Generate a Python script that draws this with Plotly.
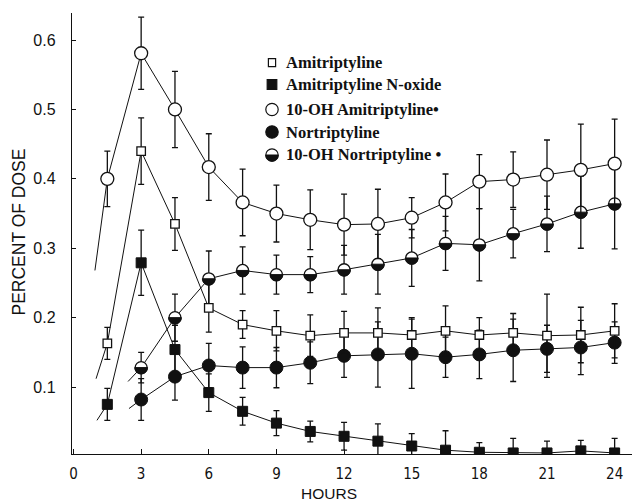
import math
import plotly.graph_objects as go

# ---------------- data ----------------
hours = [1.5, 3, 4.5, 6, 7.5, 9, 10.5, 12, 13.5, 15, 16.5, 18, 19.5, 21, 22.5, 24]
hours_nor = [3, 4.5, 6, 7.5, 9, 10.5, 12, 13.5, 15, 16.5, 18, 19.5, 21, 22.5, 24]

amitriptyline = [0.163, 0.440, 0.335, 0.214, 0.190, 0.181, 0.174, 0.178, 0.178, 0.175, 0.181, 0.175, 0.178, 0.174, 0.175, 0.181]
amitriptyline_sd = [0.023, 0.048, 0.038, 0.035, 0.020, 0.029, 0.030, 0.031, 0.036, 0.025, 0.036, 0.025, 0.028, 0.060, 0.040, 0.039]

n_oxide = [0.075, 0.279, 0.154, 0.092, 0.065, 0.048, 0.036, 0.029, 0.022, 0.015, 0.009, 0.006, 0.005, 0.005, 0.008, 0.005]
n_oxide_sd = [0.023, 0.047, 0.035, 0.027, 0.020, 0.018, 0.015, 0.020, 0.025, 0.018, 0.028, 0.014, 0.021, 0.017, 0.015, 0.021]

oh_amitriptyline = [0.400, 0.581, 0.500, 0.417, 0.366, 0.350, 0.341, 0.334, 0.335, 0.344, 0.366, 0.396, 0.399, 0.406, 0.413, 0.422]
oh_amitriptyline_sd = [0.040, 0.052, 0.055, 0.048, 0.048, 0.041, 0.043, 0.044, 0.050, 0.029, 0.041, 0.039, 0.040, 0.050, 0.066, 0.064]

nortriptyline = [0.082, 0.115, 0.131, 0.128, 0.128, 0.135, 0.145, 0.147, 0.148, 0.143, 0.147, 0.153, 0.155, 0.157, 0.164]
nortriptyline_sd = [0.030, 0.034, 0.032, 0.030, 0.029, 0.030, 0.031, 0.047, 0.050, 0.029, 0.035, 0.045, 0.034, 0.039, 0.030]

oh_nortriptyline = [0.128, 0.200, 0.256, 0.268, 0.262, 0.262, 0.269, 0.277, 0.286, 0.307, 0.305, 0.321, 0.335, 0.352, 0.364]
oh_nortriptyline_sd = [0.022, 0.034, 0.040, 0.034, 0.028, 0.026, 0.035, 0.043, 0.041, 0.039, 0.052, 0.035, 0.040, 0.052, 0.065]

# short lead-in segments drawn before the first point of each curve
lead_in_hours = [1.0, 1.04, 0.95, 2.46, 2.42]
lead_in_values = [0.112, 0.052, 0.268, 0.069, 0.108]

series_names = ["Amitriptyline", "Amitriptyline N-oxide", "10-OH Amitriptyline\u2022",
                "Nortriptyline", "10-OH Nortriptyline \u2022"]

x_ticks = [0, 3, 6, 9, 12, 15, 18, 21, 24]
y_ticks = [0.1, 0.2, 0.3, 0.4, 0.5, 0.6]
y_tick_labels = ["0.1", "0.2", "0.3", "0.4", "0.5", "0.6"]

# ---------------- layout geometry ----------------
W, H = 632, 503
ML, MR, MT, MB = 72, 0, 13, 49
PW, PH = W - ML - MR, H - MT - MB
INK = "#111111"


def px(xpix):
    return (xpix - ML) / PW


def py(ypix):
    return (H - MB - ypix) / PH


def err(sd):
    return dict(type="data", array=sd, visible=True, color=INK, thickness=1.3, width=3)


def half_path(r, n=24):
    pts = []
    for i in range(n + 1):
        t = math.pi + math.pi * i / n
        pts.append((r * math.cos(t), r * math.sin(t)))
    return "M" + "L".join(f"{a:.2f},{b:.2f}" for a, b in pts) + "Z"


fig = go.Figure()

# lead-in segments
firsts = [(hours[0], amitriptyline[0]), (hours[0], n_oxide[0]), (hours[0], oh_amitriptyline[0]),
          (hours_nor[0], nortriptyline[0]), (hours_nor[0], oh_nortriptyline[0])]
for (fx, fy), lx, ly in zip(firsts, lead_in_hours, lead_in_values):
    fig.add_trace(go.Scatter(x=[lx, fx], y=[ly, fy], mode="lines",
                             line=dict(color=INK, width=1), showlegend=False, hoverinfo="skip"))

fig.add_trace(go.Scatter(
    x=hours, y=n_oxide, name=series_names[1], mode="lines+markers",
    line=dict(color=INK, width=1), error_y=err(n_oxide_sd),
    marker=dict(symbol="square", size=10, color=INK, line=dict(color=INK, width=1))))

fig.add_trace(go.Scatter(
    x=hours_nor, y=nortriptyline, name=series_names[3], mode="lines+markers",
    line=dict(color=INK, width=1), error_y=err(nortriptyline_sd),
    marker=dict(symbol="circle", size=13, color=INK, line=dict(color=INK, width=1))))

fig.add_trace(go.Scatter(
    x=hours_nor, y=oh_nortriptyline, name=series_names[4], mode="lines+markers",
    line=dict(color=INK, width=1), error_y=err(oh_nortriptyline_sd),
    marker=dict(symbol="circle", size=12, color="white", line=dict(color=INK, width=1.3))))

fig.add_trace(go.Scatter(
    x=hours, y=amitriptyline, name=series_names[0], mode="lines+markers",
    line=dict(color=INK, width=1), error_y=err(amitriptyline_sd),
    marker=dict(symbol="square", size=8.5, color="white", line=dict(color=INK, width=1.3))))

fig.add_trace(go.Scatter(
    x=hours, y=oh_amitriptyline, name=series_names[2], mode="lines+markers",
    line=dict(color=INK, width=1), error_y=err(oh_amitriptyline_sd),
    marker=dict(symbol="circle", size=13, color="white", line=dict(color=INK, width=1.3))))

shapes = []
# lower black half of the 10-OH Nortriptyline markers
for hx, vy in zip(hours_nor, oh_nortriptyline):
    shapes.append(dict(type="path", xref="x", yref="y", xsizemode="pixel", ysizemode="pixel",
                       xanchor=hx, yanchor=vy, path=half_path(6.4),
                       fillcolor=INK, line=dict(color=INK, width=1), layer="above"))

# ---------------- hand-drawn legend ----------------
leg_sym_x = 272
leg_txt_x = 284
leg_rows = [62.7, 84.5, 109.5, 132, 155]


def sym_box(cx, cy, half_w, half_h, fill, kind="rect"):
    return dict(type=kind, xref="paper", yref="paper", xsizemode="pixel", ysizemode="pixel",
                xanchor=px(cx), yanchor=py(cy), x0=-half_w, x1=half_w, y0=-half_h, y1=half_h,
                fillcolor=fill, line=dict(color=INK, width=1.2), layer="above")


shapes.append(sym_box(leg_sym_x, leg_rows[0], 3.6, 4, "white"))
shapes.append(sym_box(leg_sym_x, leg_rows[1], 4.8, 4.8, INK))
shapes.append(sym_box(leg_sym_x, leg_rows[2], 6.2, 6.2, "white", "circle"))
shapes.append(sym_box(leg_sym_x, leg_rows[3], 6.2, 6.2, INK, "circle"))
shapes.append(sym_box(leg_sym_x, leg_rows[4], 6.2, 6.2, "white", "circle"))
shapes.append(dict(type="path", xref="paper", yref="paper", xsizemode="pixel", ysizemode="pixel",
                   xanchor=px(leg_sym_x), yanchor=py(leg_rows[4]), path=half_path(6.2),
                   fillcolor=INK, line=dict(color=INK, width=1), layer="above"))

annotations = []
for name, row in zip(series_names, leg_rows):
    annotations.append(dict(text=name, xref="paper", yref="paper", x=px(leg_txt_x), y=py(row),
                            xanchor="left", yanchor="middle", showarrow=False,
                            font=dict(family="Liberation Serif, Times New Roman, serif",
                                      size=16.5, color=INK, weight="bold")))

annotations.append(dict(text="HOURS", xref="paper", yref="paper", x=px(328.5), y=py(493.5),
                        xanchor="center", yanchor="middle", showarrow=False, borderpad=0,
                        font=dict(family="Liberation Sans, Arial, sans-serif", size=15.5, color=INK)))
annotations.append(dict(text="PERCENT OF DOSE", xref="paper", yref="paper", x=px(19), y=py(232.5),
                        xanchor="center", yanchor="middle", showarrow=False, textangle=-90,
                        font=dict(family="Liberation Sans, Arial, sans-serif", size=17.5, color=INK)))

fig.update_layout(
    width=W, height=H, margin=dict(l=ML, r=MR, t=MT, b=MB, pad=0, autoexpand=False),
    paper_bgcolor="white", plot_bgcolor="white", showlegend=False,
    shapes=shapes, annotations=annotations,
    xaxis=dict(range=[-0.067, 24.77], tickvals=x_ticks, ticktext=[str(t) for t in x_ticks],
               ticks="inside", ticklen=5, tickwidth=1.2, tickcolor=INK, automargin=False,
               showline=True, linecolor=INK, linewidth=1.4, showgrid=False, zeroline=False,
               ticklabelstandoff=6,
               tickfont=dict(family="Liberation Sans Narrow, DejaVu Sans Condensed, Arial Narrow, sans-serif",
                             size=15, color=INK)),
    yaxis=dict(range=[0.0035, 0.639], tickvals=y_ticks, ticktext=y_tick_labels,
               ticks="inside", ticklen=4, tickwidth=1.2, tickcolor=INK, automargin=False,
               showline=True, linecolor=INK, linewidth=1.4, showgrid=False, zeroline=False,
               ticklabelstandoff=12,
               tickfont=dict(family="Liberation Sans, Arial, sans-serif", size=16, color=INK)),
)

fig.write_html("out.html", config={"displayModeBar": False},
               post_script="document.body.style.margin='0px';document.body.style.overflow='hidden';")
